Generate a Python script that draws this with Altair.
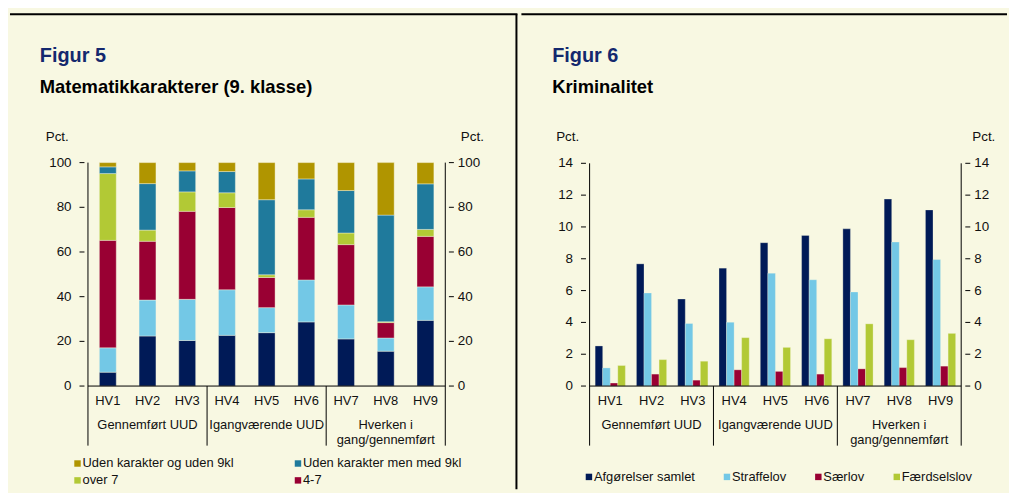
import altair as alt
import pandas as pd

# ---------------- data ----------------
categories = ["HV1", "HV2", "HV3", "HV4", "HV5", "HV6", "HV7", "HV8", "HV9"]
group_labels = ["Gennemført UUD", "Igangværende UUD", "Hverken i\ngang/gennemført"]
per_group = 3

# Figur 5 (stacked, pct.)
grade_series = ["Uden karakter og uden 9kl", "Uden karakter men med 9kl",
                "over 7", "4-7", "2-4", "2 eller under"]          # legend order
grade_colors = ["#B09500", "#1F7A9C", "#B2C935", "#990033", "#73C8E6", "#001A57"]
grade_stack = ["2 eller under", "2-4", "4-7", "over 7",
               "Uden karakter men med 9kl", "Uden karakter og uden 9kl"]  # bottom -> top
g_2_eller_under = [6.2, 22.4, 20.4, 22.7, 23.9, 28.7, 21.1, 15.6, 29.4]
g_2_4 = [10.9, 16.1, 18.4, 20.4, 11.2, 18.8, 15.2, 5.9, 15.0]
g_4_7 = [48.1, 26.3, 39.4, 36.8, 13.5, 28.0, 27.0, 6.9, 22.6]
g_over_7 = [29.9, 5.0, 8.7, 6.6, 1.2, 3.4, 5.2, 0.4, 3.1]
g_uden_med_9kl = [3.0, 20.8, 9.4, 9.5, 33.6, 13.8, 19.0, 47.7, 20.4]
g_uden_uden_9kl = [1.9, 9.4, 3.7, 4.0, 16.6, 7.3, 12.5, 23.5, 9.5]
yticks5 = [0, 20, 40, 60, 80, 100]

# Figur 6 (grouped, pct.)
crime_series = ["Afgørelser samlet", "Straffelov", "Særlov", "Færdselslov"]
crime_colors = ["#001A57", "#73C8E6", "#990033", "#B2C935"]
c_afgorelser = [2.52, 7.68, 5.47, 7.41, 9.01, 9.47, 9.88, 11.75, 11.07]
c_straffelov = [1.14, 5.85, 3.93, 4.01, 7.09, 6.68, 5.91, 9.05, 7.95]
c_saerlov = [0.19, 0.75, 0.37, 1.02, 0.92, 0.75, 1.08, 1.16, 1.25]
c_faerdselslov = [1.29, 1.66, 1.56, 3.04, 2.43, 2.97, 3.91, 2.91, 3.31]
yticks6 = [0, 2, 4, 6, 8, 10, 12, 14]

# ---------------- styling / layout ----------------
FONT = "Liberation Sans"
BG = "#F8F8E2"
NAVY_T = "#14286E"
INK = "#111111"
H = 482
W1, W2 = 512, 489


def dom(p0, p1, v0, v1, lo, hi):
    k = (v1 - v0) / (p1 - p0)
    return [v0 + (lo - p0) * k, v0 + (hi - p0) * k]


def one():
    return pd.DataFrame({"a": [0]})


def label(text, x, y, size=13, bold=False, color=INK, align="left", baseline="middle"):
    return alt.Chart(one()).mark_text(
        text=text, font=FONT, fontSize=size, fontWeight="bold" if bold else "normal",
        color=color, align=align, baseline=baseline
    ).encode(x=alt.value(x), y=alt.value(y))


def hline(x1, x2, y, w=1.0):
    return alt.Chart(one()).mark_rule(color="black", strokeWidth=w).encode(
        x=alt.value(x1), x2=alt.value(x2), y=alt.value(y))


def vline(x, y1, y2, w=1.0):
    return alt.Chart(one()).mark_rule(color="black", strokeWidth=w).encode(
        x=alt.value(x), y=alt.value(y1), y2=alt.value(y2))


def panel(ax_l, ax_r, y0px, ytop_px, ymax, yticks, W, bars, legend_layers,
          fig, title, tick_dx_r, pct_l, pct_r, extra):
    xs = alt.Scale(domain=dom(ax_l, ax_r, 0, len(categories), 0, W), nice=False, zero=False)
    ys = alt.Scale(domain=dom(y0px, ytop_px, 0, ymax, H, 0), nice=False, zero=False)
    bottom = 438
    cat_df = pd.DataFrame({"cat": categories, "pos": [i + 0.5 for i in range(len(categories))]})
    g_lines = [g.split("\n") for g in group_labels]
    grp_df = pd.DataFrame({
        "pos": [per_group * (j + 0.5) for j in range(len(group_labels))],
        "l1": [g[0] for g in g_lines],
        "l2": [g[1] if len(g) > 1 else "" for g in g_lines],
    })
    bnd_df = pd.DataFrame({"b": [per_group * j for j in range(1, len(group_labels))],
                           "v": [0] * (len(group_labels) - 1)})
    edge_df = pd.DataFrame({"b": [0, len(categories)], "v": [ymax, ymax]})
    base_df = pd.DataFrame({"b1": [0], "b2": [len(categories)], "v": [0]})
    tk_df = pd.DataFrame({"v": yticks})

    X = lambda f: alt.X(f, scale=xs, axis=None)
    Y = lambda f: alt.Y(f, scale=ys, axis=None)

    layers = []
    layers += bars(X, Y)
    # axis lines
    layers.append(alt.Chart(edge_df).mark_rule(color="black", strokeWidth=1).encode(
        x=X("b:Q"), y=Y("v:Q"), y2=alt.value(bottom)))
    layers.append(alt.Chart(bnd_df).mark_rule(color="black", strokeWidth=1).encode(
        x=X("b:Q"), y=Y("v:Q"), y2=alt.value(bottom)))
    layers.append(alt.Chart(base_df).mark_rule(color="black", strokeWidth=1).encode(
        x=X("b1:Q"), x2="b2:Q", y=Y("v:Q")))
    # ticks
    layers.append(alt.Chart(tk_df).mark_rule(color="black", strokeWidth=1).encode(
        x=alt.value(ax_l - 5), x2=alt.value(ax_l), y=Y("v:Q")))
    layers.append(alt.Chart(tk_df).mark_rule(color="black", strokeWidth=1).encode(
        x=alt.value(ax_r), x2=alt.value(ax_r + 5), y=Y("v:Q")))
    layers.append(alt.Chart(tk_df).mark_text(font=FONT, fontSize=13.5, color=INK,
                                             align="right", baseline="middle").encode(
        x=alt.value(ax_l - 13), y=Y("v:Q"), text="v:Q"))
    layers.append(alt.Chart(tk_df).mark_text(font=FONT, fontSize=13.5, color=INK,
                                             align="left", baseline="middle").encode(
        x=alt.value(ax_r + tick_dx_r), y=Y("v:Q"), text="v:Q"))
    # category + group labels
    layers.append(alt.Chart(cat_df).mark_text(font=FONT, fontSize=13, color=INK,
                                              baseline="middle").encode(
        x=X("pos:Q"), y=alt.value(393), text="cat:N"))
    layers.append(alt.Chart(grp_df).mark_text(font=FONT, fontSize=13, color=INK,
                                              baseline="middle").encode(
        x=X("pos:Q"), y=alt.value(417), text="l1:N"))
    layers.append(alt.Chart(grp_df).mark_text(font=FONT, fontSize=13, color=INK,
                                              baseline="middle").encode(
        x=X("pos:Q"), y=alt.value(432), text="l2:N"))
    # Pct labels
    layers.append(label("Pct.", ax_l - pct_l, 131.5, size=13.5, baseline="alphabetic"))
    layers.append(label("Pct.", ax_r + pct_r, 131.5, size=13.5, baseline="alphabetic"))
    # titles
    layers.append(label(fig, 31, 51.5, size=20, bold=True, color=NAVY_T, baseline="alphabetic"))
    layers.append(label(title, 31, 82.5, size=18.5, bold=True, color="#000000", baseline="alphabetic"))
    layers += legend_layers
    layers += extra
    return alt.layer(*layers).properties(width=W, height=H)


# ---- Figur 5 ----
rows5 = []
series_vals5 = {
    "2 eller under": g_2_eller_under, "2-4": g_2_4, "4-7": g_4_7, "over 7": g_over_7,
    "Uden karakter men med 9kl": g_uden_med_9kl, "Uden karakter og uden 9kl": g_uden_uden_9kl,
}
for i, c in enumerate(categories):
    for k, s in enumerate(grade_stack):
        rows5.append({"cat": c, "pos": i + 0.5, "series": s, "value": series_vals5[s][i], "ord": k})
df5 = pd.DataFrame(rows5)
col5 = alt.Scale(domain=grade_series, range=grade_colors)


def bars5(X, Y):
    return [alt.Chart(df5).transform_stack(
        stack="value", as_=["y0", "y1"], groupby=["cat"],
        sort=[alt.SortField("ord", order="ascending")]
    ).mark_bar(size=17, orient="vertical", stroke=BG, strokeWidth=0.4).encode(
        x=X("pos:Q"), y=Y("y0:Q"), y2="y1:Q",
        color=alt.Color("series:N", scale=col5, legend=None))]


leg5 = []
leg5_pos = [(77, 456), (299, 456), (77, 473), (299, 473)]
for s, (lx, ly) in zip(grade_series, leg5_pos):
    sdf = pd.DataFrame({"series": [s]})
    leg5.append(alt.Chart(sdf).mark_square(size=42, opacity=1).encode(
        x=alt.value(lx - 8), y=alt.value(ly), color=alt.Color("series:N", scale=col5, legend=None)))
    leg5.append(alt.Chart(sdf).mark_text(
        font=FONT, fontSize=13, color=INK, align="left", baseline="middle").encode(
        x=alt.value(lx - 3), y=alt.value(ly), text="series:N"))

extra5 = [hline(1, W1, 3.5, 2), vline(511, 3.5, H, 2)]
left = panel(76, 443, 378, 153, 100, yticks5, W1, bars5, leg5,
             "Figur 5", "Matematikkarakterer (9. klasse)", 9, 39, 12, extra5)

# ---- Figur 6 ----
rows6 = []
series_vals6 = {"Afgørelser samlet": c_afgorelser, "Straffelov": c_straffelov,
                "Særlov": c_saerlov, "Færdselslov": c_faerdselslov}
for i, c in enumerate(categories):
    for s in crime_series:
        rows6.append({"cat": c, "pos": i + 0.5, "series": s, "value": series_vals6[s][i], "base": 0})
df6 = pd.DataFrame(rows6)
col6 = alt.Scale(domain=crime_series, range=crime_colors)
BW6 = 7.6


def bars6(X, Y):
    out = []
    n = len(crime_series)
    for k, s in enumerate(crime_series):
        out.append(alt.Chart(df6).transform_filter(alt.datum.series == s).mark_bar(
            size=BW6, orient="vertical", xOffset=(k - (n - 1) / 2) * BW6,
            stroke=BG, strokeWidth=0.3).encode(
            x=X("pos:Q"), y=Y("value:Q"), y2="base:Q",
            color=alt.Color("series:N", scale=col6, legend=None)))
    return out


leg6 = []
leg6_pos = [(74, 469.5), (213, 469.5), (305, 469.5), (384, 469.5)]
for s, (lx, ly) in zip(crime_series, leg6_pos):
    sdf = pd.DataFrame({"series": [s]})
    leg6.append(alt.Chart(sdf).mark_square(size=42, opacity=1).encode(
        x=alt.value(lx - 6), y=alt.value(ly), color=alt.Color("series:N", scale=col6, legend=None)))
    leg6.append(alt.Chart(sdf).mark_text(
        font=FONT, fontSize=13, color=INK, align="left", baseline="middle").encode(
        x=alt.value(lx - 1), y=alt.value(ly), text="series:N"))

extra6 = [hline(0, W2, 3.5, 2)]
right = panel(65, 447, 378, 153.7, 14, yticks6, W2, bars6, leg6,
              "Figur 6", "Kriminalitet", 9, 30, 7, extra6)

chart = alt.hconcat(left, right, spacing=0).resolve_scale(
    x="independent", y="independent", color="independent"
).properties(padding=0).configure(background=BG).configure_view(stroke="transparent")

chart.save("out.html", embed_options={"renderer": "svg", "actions": False})
